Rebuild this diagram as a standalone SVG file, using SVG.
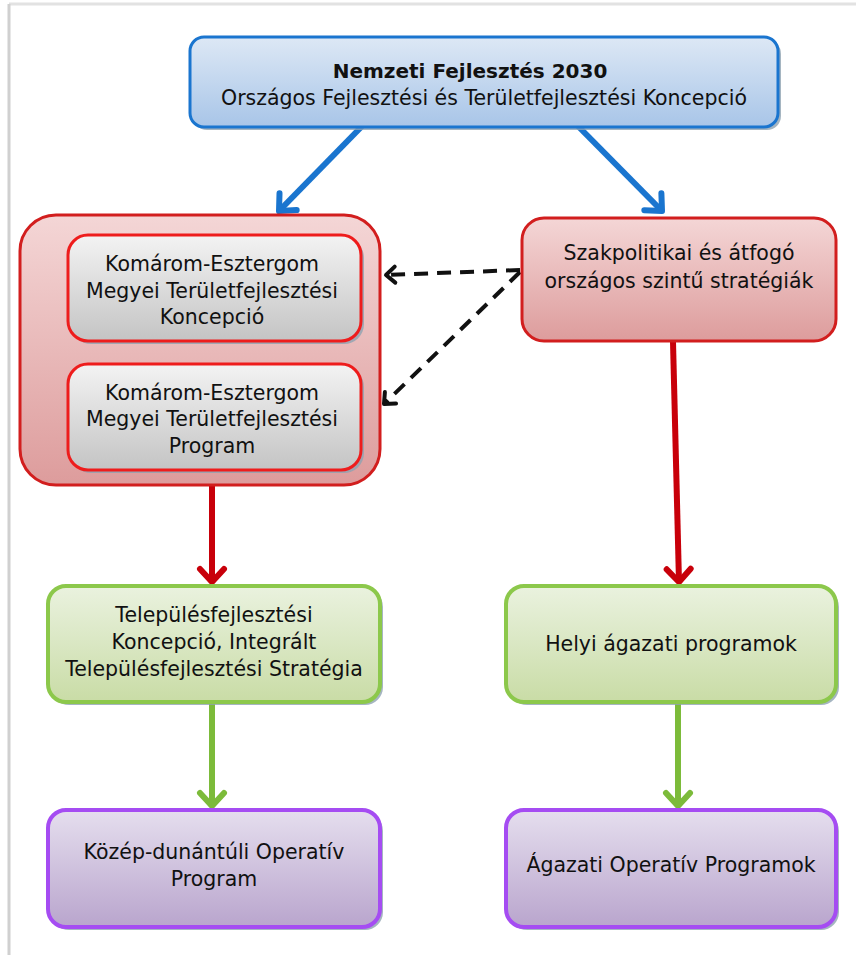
<svg xmlns="http://www.w3.org/2000/svg" width="856" height="955" viewBox="0 0 856 955">
<defs>
<linearGradient id="gBlue" x1="0" y1="0" x2="0" y2="1"><stop offset="0" stop-color="#dde8f5"/><stop offset="1" stop-color="#a8c5e8"/></linearGradient>
<linearGradient id="gRed" x1="0" y1="0" x2="0" y2="1"><stop offset="0" stop-color="#f4d6d6"/><stop offset="1" stop-color="#dd9c9c"/></linearGradient>
<linearGradient id="gGray" x1="0" y1="0" x2="0" y2="1"><stop offset="0" stop-color="#f3f3f3"/><stop offset="1" stop-color="#c4c4c4"/></linearGradient>
<linearGradient id="gGreen" x1="0" y1="0" x2="0" y2="1"><stop offset="0" stop-color="#eaf2df"/><stop offset="1" stop-color="#c9dca6"/></linearGradient>
<linearGradient id="gPurple" x1="0" y1="0" x2="0" y2="1"><stop offset="0" stop-color="#e5deee"/><stop offset="1" stop-color="#b9a5cd"/></linearGradient>
<marker id="mBlue" viewBox="-18 -16 22 32" markerWidth="22" markerHeight="32" refX="0" refY="0" orient="auto" markerUnits="userSpaceOnUse" overflow="visible"><path d="M-13,-12 L0,0 L-13,12" fill="none" stroke="#1a75cf" stroke-width="6" stroke-linecap="round" stroke-linejoin="round"/></marker>
<marker id="mRed" viewBox="-18 -16 22 32" markerWidth="22" markerHeight="32" refX="0" refY="0" orient="auto" markerUnits="userSpaceOnUse" overflow="visible"><path d="M-13,-12 L0,0 L-13,12" fill="none" stroke="#c8000a" stroke-width="6" stroke-linecap="round" stroke-linejoin="round"/></marker>
<marker id="mGreen" viewBox="-18 -16 22 32" markerWidth="22" markerHeight="32" refX="0" refY="0" orient="auto" markerUnits="userSpaceOnUse" overflow="visible"><path d="M-13,-12 L0,0 L-13,12" fill="none" stroke="#7cbb3a" stroke-width="6" stroke-linecap="round" stroke-linejoin="round"/></marker>
<marker id="mBlack" viewBox="-12 -10 16 20" markerWidth="16" markerHeight="20" refX="0" refY="0" orient="auto" markerUnits="userSpaceOnUse" overflow="visible"><path d="M-9,-8 L0,0 L-9,8" fill="none" stroke="#111" stroke-width="4" stroke-linecap="round" stroke-linejoin="round"/></marker>
</defs>
<style>
text{font-family:"DejaVu Sans","Liberation Sans",sans-serif;font-size:20.5px;fill:#111;text-anchor:middle}
.b{font-weight:bold;font-size:20px}
.sh{fill:#8ea3b2;opacity:0.8}
.blue{fill:url(#gBlue);stroke:#1a75cf;stroke-width:3}
.red{fill:url(#gRed);stroke:#d21e1e;stroke-width:3}
.gray{fill:url(#gGray);stroke:#ee1c1c;stroke-width:3}
.green{fill:url(#gGreen);stroke:#8cc84b;stroke-width:4}
.purple{fill:url(#gPurple);stroke:#a54cf2;stroke-width:4}
.arr{fill:none;stroke-width:6;stroke-linecap:butt}
.dash{fill:none;stroke:#111;stroke-width:4;stroke-dasharray:14 9}
</style>
<rect width="856" height="955" fill="#ffffff"/>
<g id="frame" fill="none">
<line x1="9" y1="4" x2="856" y2="4" stroke="#e2e2e2" stroke-width="3"/>
<line x1="9" y1="4" x2="9" y2="955" stroke="#d0d0d0" stroke-width="3"/>
</g>
<g id="connectors">
<line class="arr" x1="370" y1="118" x2="279" y2="211" stroke="#1a75cf" marker-end="url(#mBlue)"/>
<line class="arr" x1="570" y1="118" x2="662" y2="211" stroke="#1a75cf" marker-end="url(#mBlue)"/>
<line class="dash" x1="520" y1="270" x2="386" y2="275" marker-end="url(#mBlack)"/>
<line class="dash" x1="520" y1="272" x2="384" y2="404" marker-end="url(#mBlack)"/>
<line class="arr" x1="212" y1="486" x2="212" y2="582" stroke="#c8000a" marker-end="url(#mRed)"/>
<line class="arr" x1="673" y1="342" x2="679" y2="582" stroke="#c8000a" marker-end="url(#mRed)"/>
<line class="arr" x1="212" y1="704" x2="212" y2="806" stroke="#7cbb3a" marker-end="url(#mGreen)"/>
<line class="arr" x1="678" y1="704" x2="678" y2="806" stroke="#7cbb3a" marker-end="url(#mGreen)"/>
</g>
<g id="n-top">
<rect class="sh" x="193" y="40" width="588" height="90" rx="14"/>
<rect class="blue" x="190" y="37" width="588" height="90" rx="14"/>
<text class="b" x="470" y="78">Nemzeti Fejlesztés 2030</text>
<text x="484" y="105">Országos Fejlesztési és Területfejlesztési Koncepció</text>
</g>
<g id="n-megyei">
<rect class="red" x="20" y="215" width="360" height="270" rx="36"/>
</g>
<g id="n-koncepcio">
<rect class="sh" x="71" y="238" width="293" height="106" rx="20"/>
<rect class="gray" x="68" y="235" width="293" height="106" rx="20"/>
<text x="212" y="271">Komárom-Esztergom</text>
<text x="212" y="298">Megyei Területfejlesztési</text>
<text x="212" y="324">Koncepció</text>
</g>
<g id="n-program">
<rect class="sh" x="71" y="367" width="293" height="106" rx="20"/>
<rect class="gray" x="68" y="364" width="293" height="106" rx="20"/>
<text x="212" y="400">Komárom-Esztergom</text>
<text x="212" y="426">Megyei Területfejlesztési</text>
<text x="212" y="453">Program</text>
</g>
<g id="n-szak">
<rect class="red" x="522" y="218" width="314" height="123" rx="22"/>
<text x="679" y="260">Szakpolitikai és átfogó</text>
<text x="679" y="288">országos szintű stratégiák</text>
</g>
<g id="n-telep">
<rect class="sh" x="51" y="589" width="332" height="116" rx="18"/>
<rect class="green" x="48" y="586" width="332" height="116" rx="18"/>
<text x="214" y="622">Településfejlesztési</text>
<text x="214" y="649">Koncepció, Integrált</text>
<text x="214" y="676">Településfejlesztési Stratégia</text>
</g>
<g id="n-helyi">
<rect class="sh" x="509" y="589" width="330" height="116" rx="18"/>
<rect class="green" x="506" y="586" width="330" height="116" rx="18"/>
<text x="671" y="651">Helyi ágazati programok</text>
</g>
<g id="n-kdop">
<rect class="sh" x="51" y="813" width="332" height="117" rx="18"/>
<rect class="purple" x="48" y="810" width="332" height="117" rx="18"/>
<text x="214" y="859">Közép-dunántúli Operatív</text>
<text x="214" y="886">Program</text>
</g>
<g id="n-agazati">
<rect class="sh" x="509" y="813" width="330" height="117" rx="18"/>
<rect class="purple" x="506" y="810" width="330" height="117" rx="18"/>
<text x="671" y="872">Ágazati Operatív Programok</text>
</g>
</svg>
